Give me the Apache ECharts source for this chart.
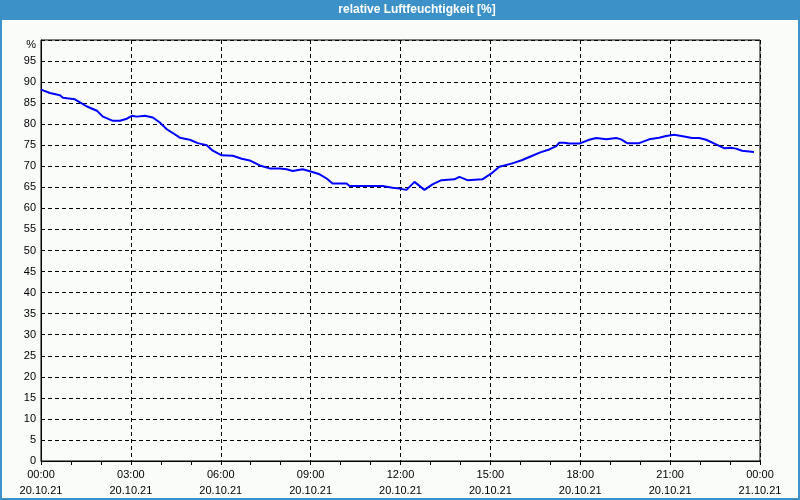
<!DOCTYPE html>
<html>
<head>
<meta charset="utf-8">
<script src="https://cdn.jsdelivr.net/npm/echarts@6/dist/echarts.min.js"></script>
<style>
html,body{margin:0;padding:0;background:#fafcfa;}
#chart{width:800px;height:500px;}
</style>
</head>
<body>
<div id="chart"></div>
<script>
// Time of day in minutes since 20.10.21 00:00
const minutes = [0,18,38,44,68,78,92,112,124,144,158,172,182,192,208,224,238,252,264,278,298,314,332,344,362,384,402,418,438,458,478,492,504,524,542,558,572,584,612,618,652,684,704,718,732,748,768,784,802,828,838,854,884,902,918,944,964,984,1000,1018,1032,1038,1048,1058,1078,1098,1112,1132,1152,1162,1174,1198,1218,1238,1252,1268,1288,1304,1318,1332,1352,1368,1382,1392,1404,1428];
// Relative humidity [%]
const humidity = [88.2,87.4,86.9,86.3,85.9,85.2,84.2,83.2,81.8,80.8,80.8,81.3,82.0,81.8,82.0,81.6,80.4,78.8,77.9,76.8,76.3,75.5,75.0,73.7,72.6,72.5,71.8,71.4,70.2,69.5,69.5,69.3,68.9,69.3,68.7,68.1,67.1,65.9,65.9,65.3,65.3,65.3,64.9,64.7,64.4,66.3,64.4,65.7,66.7,66.9,67.5,66.7,66.9,68.3,69.9,70.7,71.5,72.5,73.3,74.0,74.8,75.6,75.6,75.4,75.4,76.3,76.7,76.4,76.7,76.4,75.5,75.5,76.4,76.8,77.2,77.5,77.1,76.7,76.7,76.3,75.2,74.3,74.4,74.2,73.7,73.4];
const xTickLabels = {0:'00:00\n20.10.21',180:'03:00\n20.10.21',360:'06:00\n20.10.21',540:'09:00\n20.10.21',720:'12:00\n20.10.21',900:'15:00\n20.10.21',1080:'18:00\n20.10.21',1260:'21:00\n20.10.21',1440:'00:00\n21.10.21'};
const titleText = 'relative Luftfeuchtigkeit [%]';

const chart = echarts.init(document.getElementById('chart'), null, {renderer:'canvas'});
const font = 'Liberation Sans';
chart.setOption({
  backgroundColor:'#fafcfa',
  animation:false,
  textStyle:{fontFamily:font},
  graphic:[
    {type:'rect', shape:{x:0,y:0,width:800,height:20}, style:{fill:'#3c91c8'}, z:0},
    {type:'rect', shape:{x:1,y:0,width:798,height:499}, style:{fill:'none',stroke:'#3c91c8',lineWidth:2}, z:0},
    {type:'text', x:417, y:10, style:{text:titleText, fill:'#ffffff', font:'bold 12px "Liberation Sans"', textAlign:'center', textVerticalAlign:'middle'}, z:10}
  ],
  grid:{left:41, right:40, top:40, bottom:39, show:true, borderColor:'#000', borderWidth:1, backgroundColor:'transparent'},
  xAxis:{
    type:'value', min:0, max:1440, interval:180,
    axisLine:{show:true, lineStyle:{color:'#000', width:1}},
    axisTick:{show:true, length:4, inside:false, lineStyle:{color:'#000'}},
    minorTick:{show:true, splitNumber:3, length:4, lineStyle:{color:'#000'}},
    splitLine:{show:true, lineStyle:{color:'#000', type:[4,3], width:1}},
    axisLabel:{color:'#000', fontSize:11, fontFamily:font, lineHeight:16, margin:6,
      formatter:v=>xTickLabels[v] || ''}
  },
  yAxis:{
    type:'value', min:0, max:100, interval:5,
    axisLine:{show:true, lineStyle:{color:'#000', width:1}},
    axisTick:{show:false},
    splitLine:{show:true, lineStyle:{color:'#000', type:[4,3], width:1}},
    axisLabel:{color:'#000', fontSize:11, fontFamily:font, margin:5,
      rich:{p:{fontSize:11, fontFamily:font, color:'#000', padding:[10,0,0,0]}},
      formatter:v=> v===100 ? '{p|%}' : String(v)}
  },
  series:[{
    type:'line', data:minutes.map((m,i)=>[m,humidity[i]]),
    showSymbol:false, symbol:'none',
    lineStyle:{color:'#0000ff', width:2}, itemStyle:{color:'#0000ff'}
  }]
});
</script>
</body>
</html>
